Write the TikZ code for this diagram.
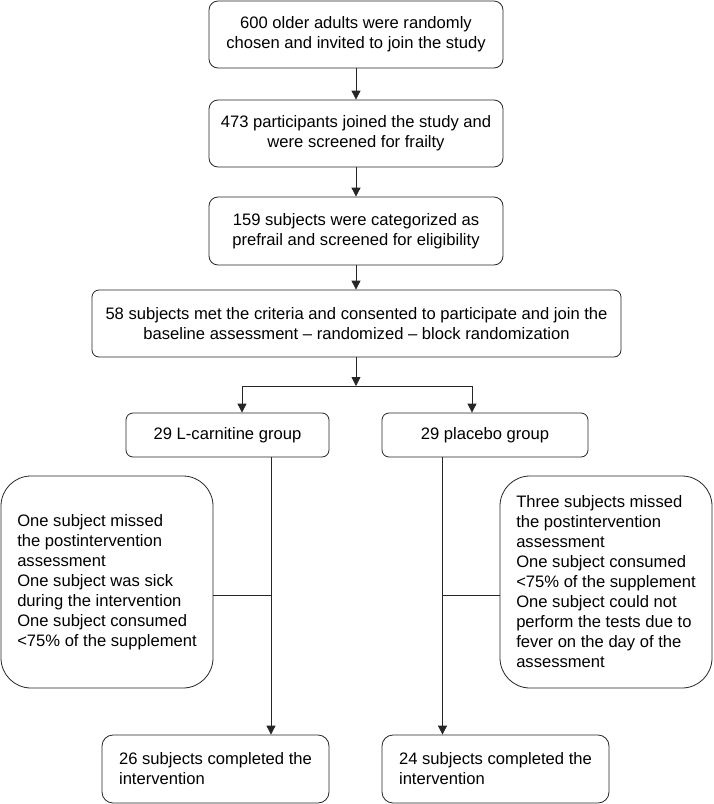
\documentclass[tikz,border=0pt]{standalone}
\usepackage{fontspec}
\setmainfont{Liberation Sans}
\usetikzlibrary{arrows.meta}
\begin{document}
\begin{tikzpicture}[x=1pt,y=-1pt,
  box/.style={draw=black!85, line width=0.8pt, rounded corners=#1, inner sep=0pt,
    font=\fontsize{16.6pt}{20pt}\selectfont, text=black},
  box/.default=9pt,
  cbox/.style={box=#1, align=center},
  cbox/.default=9pt,
  lbox/.style={box=#1, align=left},
  lbox/.default=9pt,
  conn/.style={draw=black!85, line width=0.8pt},
  arr/.style={conn, -{Triangle[length=9pt,width=9pt]}}]
\useasboundingbox (0,0) rectangle (713,804);

\node[cbox, minimum width=294pt, minimum height=67pt] (b1) at (356,34.5)
  {600 older adults were randomly\\chosen and invited to join the study};
\node[cbox, minimum width=294pt, minimum height=67pt] (b2) at (356,133.5)
  {473 participants joined the study and\\were screened for frailty};
\node[cbox, minimum width=294pt, minimum height=68pt] (b3) at (356,231)
  {159 subjects were categorized as\\prefrail and screened for eligibility};
\node[cbox=7pt, minimum width=529pt, minimum height=67pt] (b4) at (356.5,323.5)
  {58 subjects met the criteria and consented to participate and join the\\baseline assessment – randomized – block randomization};

\node[cbox=7pt, minimum width=203pt, minimum height=44pt] (g1) at (227.5,435)
  {29 L-carnitine group};
\node[cbox=7pt, minimum width=206pt, minimum height=44pt] (g2) at (485,435)
  {29 placebo group};

\node[lbox=30pt, minimum width=212pt, minimum height=212pt] (n1) at (107,582)
  {One subject missed\\the postintervention\\assessment\\One subject was sick\\during the intervention\\One subject consumed\\<75\% of the supplement};
\node[lbox=30pt, minimum width=212pt, minimum height=212pt] (n2) at (606,582)
  {Three subjects missed\\the postintervention\\assessment\\One subject consumed\\<75\% of the supplement\\One subject could not\\perform the tests due to\\fever on the day of the\\assessment};

\node[lbox=11pt, minimum width=227pt, minimum height=68pt] (f1) at (215.5,769)
  {26 subjects completed the\\intervention};
\node[lbox=11pt, minimum width=227pt, minimum height=68pt] (f2) at (495.5,769)
  {24 subjects completed the\\intervention};

\coordinate (j) at (356,386);
\coordinate (jl) at (242,386);
\coordinate (jr) at (472,386);
\coordinate (cl) at (271,595);
\coordinate (cr) at (442.5,595);

\draw[arr] (b1.south) -- (b1.south |- b2.north);
\draw[arr] (b2.south) -- (b2.south |- b3.north);
\draw[arr] (b3.south) -- (b3.south |- b4.north);
\draw[arr] (b4.south -| j) -- (j);
\draw[conn] (jl) -- (jr);
\draw[arr] (jl) -- (jl |- g1.north);
\draw[arr] (jr) -- (jr |- g2.north);
\draw[arr] (g1.south -| cl) -- (f1.north -| cl);
\draw[arr] (g2.south -| cr) -- (f2.north -| cr);
\draw[conn] (n1.east |- cl) -- (cl);
\draw[conn] (cr) -- (n2.west |- cr);
\end{tikzpicture}
\end{document}
